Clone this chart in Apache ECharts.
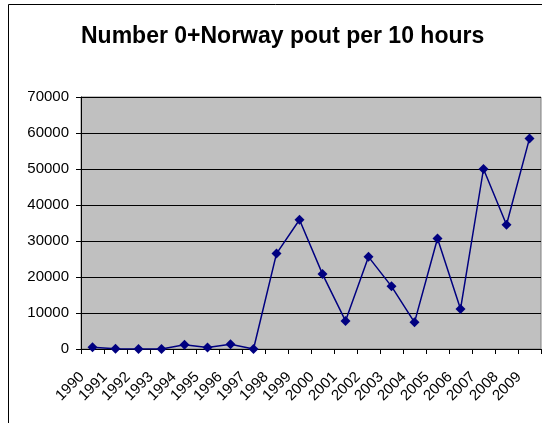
<!DOCTYPE html>
<html>
<head>
<meta charset="utf-8">
<script src="https://cdn.jsdelivr.net/npm/echarts@6/dist/echarts.min.js"></script>
<style>
html,body{margin:0;padding:0;background:#fff;}
#chart{width:542px;height:423px;}
</style>
</head>
<body>
<div id="chart"></div>
<script>
const titleText = 'Number 0+Norway pout per 10 hours';
const years = ['1990','1991','1992','1993','1994','1995','1996','1997','1998','1999','2000','2001','2002','2003','2004','2005','2006','2007','2008','2009'];
const values = [500, 100, 0, 0, 1200, 400, 1300, 0, 26500, 35900, 20800, 7800, 25600, 17400, 7400, 30700, 11100, 50000, 34500, 58500];
const yMin = 0, yMax = 70000, yStep = 10000;

const chart = echarts.init(document.getElementById('chart'), null, {renderer:'canvas'});
chart.setOption({
  animation: false,
  backgroundColor: '#fff',
  graphic: [{
    type: 'rect',
    shape: {x: 8.5, y: 4.5, width: 700, height: 600},
    style: {fill: 'none', stroke: '#000', lineWidth: 1},
    silent: true
  }],
  title: {
    text: titleText,
    left: 76,
    top: 20,
    textStyle: {fontFamily: 'Liberation Sans, Arial', fontWeight: 'bold', fontSize: 23, color: '#000'}
  },
  grid: {
    left: 81, right: 1, top: 97, bottom: 74,
    show: true, backgroundColor: '#c0c0c0', borderColor: '#808080', borderWidth: 1
  },
  xAxis: {
    type: 'category',
    data: years,
    boundaryGap: true,
    axisLine: {lineStyle: {color: '#000', width: 1}},
    axisTick: {show: true, inside: false, length: 5, alignWithLabel: false, lineStyle: {color: '#000'}},
    axisLabel: {rotate: 45, margin: 15, padding: [0, 15, 0, 0], interval: 0, color: '#000', fontFamily: 'Liberation Sans, Arial', fontSize: 15}
  },
  yAxis: {
    type: 'value',
    min: yMin, max: yMax, interval: yStep,
    axisLine: {show: true, lineStyle: {color: '#000', width: 1}},
    axisTick: {show: true, inside: false, length: 5, lineStyle: {color: '#000'}},
    axisLabel: {margin: 12, color: '#000', fontFamily: 'Liberation Sans, Arial', fontSize: 15, formatter: v => String(v)},
    splitLine: {show: true, lineStyle: {color: '#000', width: 1}}
  },
  series: [{
    type: 'line',
    data: values,
    symbol: 'diamond',
    symbolSize: 10,
    lineStyle: {color: '#000080', width: 1.5},
    itemStyle: {color: '#000080'}
  }]
});
</script>
</body>
</html>
